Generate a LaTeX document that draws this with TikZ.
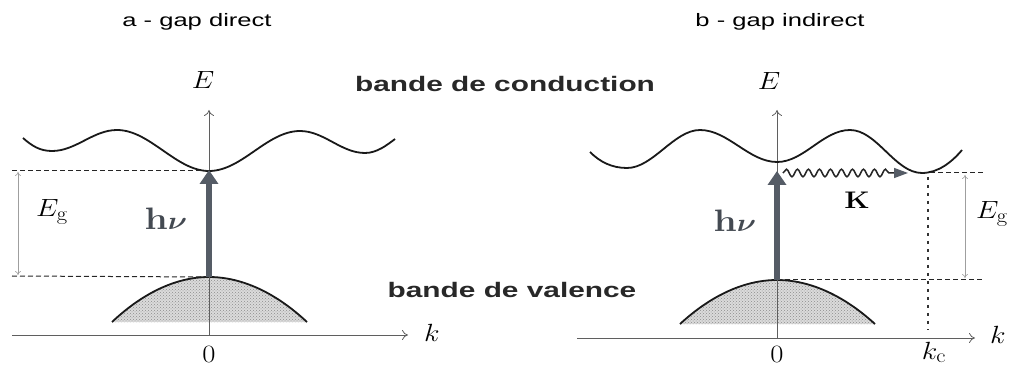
\documentclass[tikz,border=0pt]{standalone}
\usepackage{fontspec}
\usepackage{bm}
\newfontfamily\arialfont{Liberation Sans}
\usetikzlibrary{arrows.meta,patterns,decorations.pathmorphing}
\definecolor{hvcol}{RGB}{85,92,102}
\definecolor{axcol}{RGB}{95,95,95}
\definecolor{txtcol}{RGB}{40,40,40}
\tikzset{
  axisline/.style={draw=axcol, line width=0.8pt, -{To[length=6pt,width=10pt]}},
  bandline/.style={line width=1.8pt, black!90},
  levelline/.style={line width=1pt, dash pattern=on 5pt off 3pt, black!85},
  kcline/.style={line width=1.8pt, dash pattern=on 3pt off 5pt, black!80},
  gaparrow/.style={draw=gray!75, line width=0.6pt, {To[length=4pt,width=6pt]}-{To[length=4pt,width=6pt]}},
  photon/.style={draw=hvcol, line width=6pt, -{Triangle[length=14pt,width=18pt]}},
  phonon/.style={draw=black!85, line width=1.5pt, decorate,
     decoration={snake, amplitude=3.8pt, segment length=11pt, post length=14pt},
     -{Triangle[length=14pt,width=10pt,color=hvcol]}},
  valfill/.style={fill=gray!28, postaction={pattern=crosshatch dots, pattern color=gray!90}},
  titlelbl/.style={font=\arialfont\fontsize{18}{20}\selectfont, xscale=1.42, inner sep=0pt},
  bandlbl/.style={font=\arialfont\bfseries\fontsize{21}{24}\selectfont, xscale=1.42, inner sep=0pt, text=txtcol},
  mathlbl/.style={font=\fontsize{28}{30}\selectfont, xscale=1.15, inner sep=0pt},
  hvlbl/.style={font=\fontsize{31}{33}\selectfont, xscale=1.2, inner sep=0pt, text=hvcol!80!black},
}
\begin{document}
\begin{tikzpicture}[x=1pt,y=-1pt]
\useasboundingbox (0,0) rectangle (1010,366);

% ---------------- titles and band names
\node[titlelbl, anchor=base] (ta) at (197,27) {a - gap direct};
\node[titlelbl, anchor=base] (tb) at (780,27) {b - gap indirect};
\node[bandlbl, anchor=base] (bc) at (505,92) {bande de conduction};
\node[bandlbl, anchor=base] (bv) at (512,298) {bande de valence};

% ================= panel a
\coordinate (aO) at (209,335);
\coordinate (aXl) at (12,335);
\coordinate (aXr) at (408,335);
\coordinate (aYt) at (209,110);
\coordinate (aCmin) at (209,171);
\coordinate (aVtop) at (209,277);
\coordinate (aVl) at (112,322);
\coordinate (aVr) at (307,322);
\coordinate (aDl1) at (12,171);
\coordinate (aDl2) at (12,276);
\coordinate (aG1) at (18,172);
\coordinate (aG2) at (18,275);

\fill[valfill] (aVl) parabola bend (aVtop) (aVr) -- cycle;
\draw[bandline] (aVl) parabola bend (aVtop) (aVr);
\draw[axisline] (aXl) -- (aXr);
\draw[axisline] (aO) -- (aYt);
\draw[bandline] (23,138) .. controls (32,146) and (40,151) .. (52,151)
  .. controls (76,151) and (93,130) .. (117,130)
  .. controls (150,130) and (176,171) .. (aCmin)
  .. controls (242,171) and (267,131) .. (300,131)
  .. controls (324,131) and (341,153) .. (365,153)
  .. controls (377,153) and (387,145) .. (395,139);
\draw[levelline] (aDl1) -- (aCmin);
\draw[levelline] (aDl2) -- (aVtop);
\draw[gaparrow] (aG1) -- (aG2);
\draw[photon] (aVtop) -- ([yshift=1pt]aCmin);

\node[mathlbl] (aE) at (203,80) {$E$};
\node[mathlbl] (ak) at (432,333) {$k$};
\node[mathlbl] (a0) at (209,354) {$0$};
\node[mathlbl] (aEg) at (52,212) {$E_{\mathrm{g}}$};
\node[hvlbl] (ahv) at (166,219) {\textbf{h}$\bm{\nu}$};

% ================= panel b
\coordinate (bO) at (777,338);
\coordinate (bXl) at (577,338);
\coordinate (bXr) at (975,338);
\coordinate (bYt) at (777,110);
\coordinate (bCmid) at (777,162);
\coordinate (bCmin) at (922,173);
\coordinate (bVtop) at (777,280);
\coordinate (bVl) at (680,324);
\coordinate (bVr) at (875,324);
\coordinate (bDr1) at (985,173);
\coordinate (bDr2) at (982,280);
\coordinate (bKt) at (928,177);
\coordinate (bKb) at (928,330);
\coordinate (bG1) at (965,175);
\coordinate (bG2) at (965,278);
\coordinate (bPs) at (783,173);
\coordinate (bPe) at (908,173);

\fill[valfill] (bVl) parabola bend (bVtop) (bVr) -- cycle;
\draw[bandline] (bVl) parabola bend (bVtop) (bVr);
\draw[axisline] (bXl) -- (bXr);
\draw[axisline] (bO) -- (bYt);
\draw[bandline] (590,152) .. controls (600,162) and (612,168) .. (627,168)
  .. controls (653,168) and (674,130) .. (700,130)
  .. controls (728,130) and (749,162) .. (bCmid)
  .. controls (804,162) and (823,130) .. (850,130)
  .. controls (877,130) and (895,173) .. (bCmin)
  .. controls (938,173) and (952,162) .. (962,150);
\draw[levelline] (bCmin) -- (bDr1);
\draw[levelline] (bVtop) -- (bDr2);
\draw[kcline] (bKt) -- (bKb);
\draw[gaparrow] (bG1) -- (bG2);
\draw[photon] (bVtop) -- ([yshift=2pt]bPs -| bVtop);
\draw[phonon] (bPs) -- (bPe);

\node[mathlbl] (bE) at (769,81) {$E$};
\node[mathlbl] (bk) at (998,335) {$k$};
\node[mathlbl] (b0) at (777,354) {$0$};
\node[mathlbl, anchor=base] (bkc) at (934,359) {$k_{\mathrm{c}}$};
\node[mathlbl] (bEg) at (992,214) {$E_{\mathrm{g}}$};
\node[hvlbl] (bhv) at (735,221) {\textbf{h}$\bm{\nu}$};
\node[font=\bfseries\fontsize{24}{26}\selectfont, xscale=1.2, inner sep=0pt] (bK) at (857,200) {K};
\end{tikzpicture}
\end{document}
